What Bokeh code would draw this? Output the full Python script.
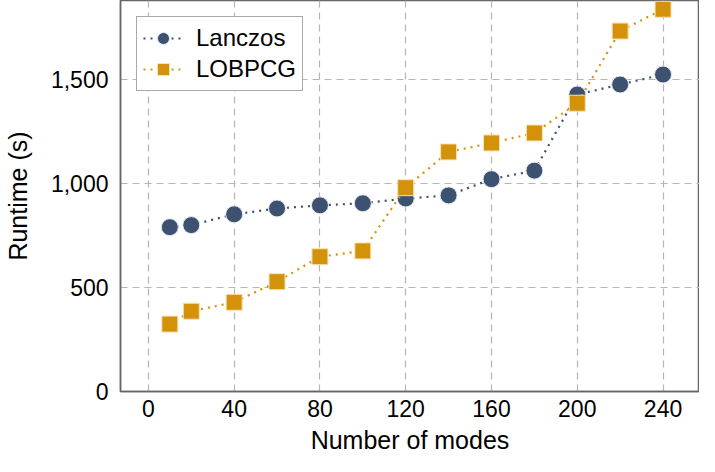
from bokeh.plotting import figure
from bokeh.models import Range1d, FixedTicker, NumeralTickFormatter, Legend, LegendItem
from bokeh.embed import file_html
from bokeh.resources import INLINE

modes = [10, 20, 40, 60, 80, 100, 120, 140, 160, 180, 200, 220, 240]
lanczos = [790, 800, 852, 880, 895, 905, 928, 943, 1021, 1062, 1428, 1476, 1524]
lobpcg = [324, 386, 429, 528, 648, 676, 980, 1152, 1195, 1243, 1386, 1733, 1838]
x_ticks = [0, 40, 80, 120, 160, 200, 240]
y_ticks = [0, 500, 1000, 1500]

BLUE = "#3d5170"
GOLD = "#d4920a"
FONT = "Liberation Sans"

p = figure(width=699, height=456, output_backend="svg", toolbar_location=None,
           x_range=Range1d(-13, 257), y_range=Range1d(0, 1880),
           min_border_left=117, min_border_right=0, min_border_top=0, min_border_bottom=58)

p.outline_line_color = "#666666"
p.outline_line_width = 1.5
p.background_fill_color = "white"
p.border_fill_color = "white"

for ax in (p.xaxis[0], p.yaxis[0]):
    ax.axis_line_color = "#666666"
    ax.axis_line_width = 1.5
    ax.major_tick_out = 0
    ax.major_tick_in = 0
    ax.minor_tick_out = 0
    ax.minor_tick_in = 0
    ax.major_label_text_font = FONT
    ax.major_label_text_font_size = "23px"
    ax.major_label_text_color = "black"
    ax.axis_label_text_font = FONT
    ax.axis_label_text_font_size = "25px"
    ax.axis_label_text_font_style = "normal"
    ax.axis_label_text_color = "black"

p.xaxis.ticker = FixedTicker(ticks=x_ticks)
p.yaxis.ticker = FixedTicker(ticks=y_ticks)
p.yaxis.formatter = NumeralTickFormatter(format="0,0")
p.xaxis.axis_label = "Number of modes"
p.yaxis.axis_label = "Runtime (s)"
p.xaxis.major_label_standoff = 8
p.yaxis.major_label_standoff = 12
p.xaxis.axis_label_standoff = 6
p.yaxis.axis_label_standoff = 16

for g in (p.xgrid[0], p.ygrid[0]):
    g.grid_line_color = "#b5b5b5"
    g.grid_line_dash = "7 5"
    g.grid_line_width = 1.2
p.xgrid.ticker = FixedTicker(ticks=x_ticks)
p.ygrid.ticker = FixedTicker(ticks=y_ticks)

l1 = p.line(modes, lanczos, line_color=BLUE, line_width=2.2, line_dash="2 5")
s1 = p.scatter(modes, lanczos, marker="circle", size=17, fill_color=BLUE,
               line_color="#e8ecf2", line_width=1)
l2 = p.line(modes, lobpcg, line_color=GOLD, line_width=2.2, line_dash="2 5")
s2 = p.scatter(modes, lobpcg, marker="square", size=16, fill_color=GOLD,
               line_color="#f6e3b8", line_width=1)

legend = Legend(items=[LegendItem(label="Lanczos", renderers=[l1, s1]),
                       LegendItem(label="LOBPCG", renderers=[l2, s2])])
legend.location = "top_left"
legend.margin = 16
legend.padding = 6
legend.spacing = 1
legend.glyph_width = 40
legend.glyph_height = 30
legend.label_standoff = 13
legend.label_text_font = FONT
legend.label_text_font_size = "24px"
legend.label_text_color = "black"
legend.border_line_color = "#555555"
legend.border_line_width = 1.2
legend.background_fill_alpha = 1
p.add_layout(legend)

open("out.html", "w").write(file_html(p, INLINE))
